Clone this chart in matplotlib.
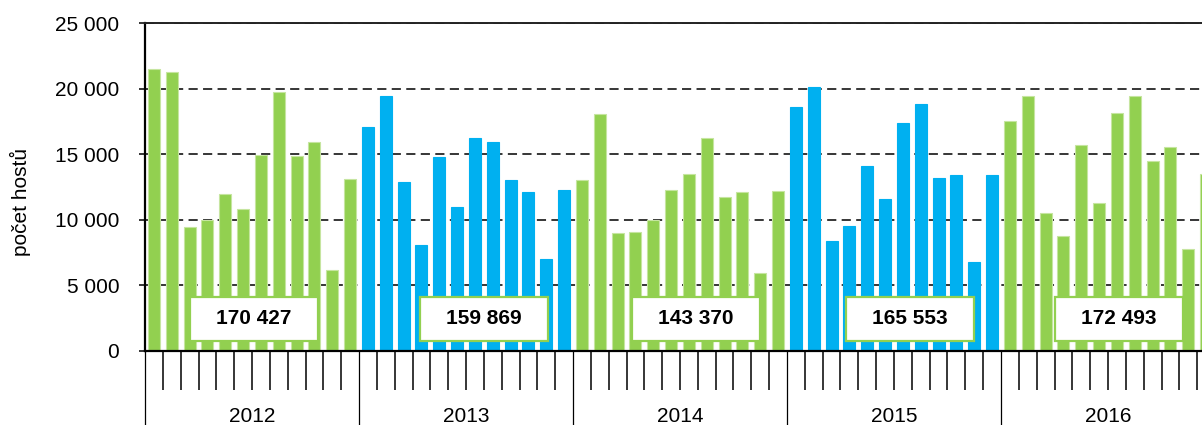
import matplotlib
matplotlib.use("Agg")
import matplotlib.pyplot as plt
from matplotlib.patches import Rectangle
from matplotlib.ticker import FuncFormatter

# monthly guest counts, Jan..Dec for each year
years = ["2012", "2013", "2014", "2015", "2016"]
guests_2012 = [21500, 21300, 9450, 10000, 11950, 10800, 14950, 19750, 14900, 15950, 6200, 13100]
guests_2013 = [17100, 19400, 12850, 8100, 14750, 11000, 16200, 15900, 13050, 12150, 7050, 12300]
guests_2014 = [13050, 18100, 9000, 9050, 9950, 12300, 13500, 16250, 11700, 12150, 5930, 12200]
guests_2015 = [18600, 20150, 8350, 9550, 14100, 11550, 17400, 18850, 13150, 13450, 6800, 13450]
guests_2016 = [17500, 19400, 10550, 8800, 15700, 11300, 18150, 19400, 14500, 15550, 7800, 13500]
year_totals = ["170 427", "159 869", "143 370", "165 553", "172 493"]

series = [guests_2012, guests_2013, guests_2014, guests_2015, guests_2016]

plt.rcParams['font.family'] = ['Liberation Sans', 'DejaVu Sans']

green = '#92d050'
blue = '#00b0f0'
year_colors = [green, blue, green, blue, green]

fig = plt.figure(figsize=(12.02, 4.25), dpi=100)
# axes runs a little past the right edge, like in the original cut-out
ax = fig.add_axes([145 / 1202, 74 / 425, 1070 / 1202, 328 / 425])

# bars
for i, (vals, col) in enumerate(zip(series, year_colors)):
    xs = [i * 12 + m for m in range(12)]
    edge = '#c6e5a0' if col == green else col
    ax.bar(xs, vals, width=0.67, color=col, edgecolor=edge, linewidth=0.8, zorder=2)

ax.set_xlim(-0.5, 59.5)
ax.set_ylim(0, 25000)

# y axis
ax.set_yticks(range(0, 25001, 5000))
ax.yaxis.set_major_formatter(FuncFormatter(lambda v, p: f"{int(v):,}".replace(",", " ")))
ax.tick_params(axis='y', direction='out', length=4.5, width=1.1, pad=14, labelsize=15)
ax.yaxis.grid(True, color='black', linestyle=(0, (6, 3.5)), linewidth=1.1)
ax.set_axisbelow(True)

ax.spines['right'].set_visible(False)
ax.spines['top'].set_color('#222222')
ax.spines['top'].set_linewidth(1.4)
ax.spines['left'].set_linewidth(1.6)
ax.spines['bottom'].set_linewidth(1.6)

# x axis: month ticks at category edges, long ticks at year edges
ax.set_xticks([12 * i - 0.5 for i in range(6)])
ax.set_xticks([m - 0.5 for m in range(61) if m % 12 != 0], minor=True)
ax.tick_params(axis='x', which='major', direction='out', length=60, width=0.9,
               labelbottom=False)
ax.tick_params(axis='x', which='minor', direction='out', length=28, width=1.1,
               labelbottom=False)

for i, y in enumerate(years):
    ax.text(i * 12 + 5.5, -0.216, y, transform=ax.get_xaxis_transform(),
            ha='center', va='baseline', fontsize=15, clip_on=False)

# yearly totals in boxes
box_x = [5.6, 18.5, 30.4, 42.4, 54.1]
for cx, label in zip(box_x, year_totals):
    ax.add_patch(Rectangle((cx - 3.6, 780), 7.2, 3330, facecolor='white',
                           edgecolor=green, linewidth=1.6, zorder=3))
    ax.text(cx, 2460, label, ha='center', va='center', fontsize=15,
            fontweight='bold', zorder=4)

fig.text(20 / 1202, 1 - 202 / 425, "počet hostů", rotation=90,
         ha='center', va='center', fontsize=15)

fig.savefig("out.png", dpi=100)
